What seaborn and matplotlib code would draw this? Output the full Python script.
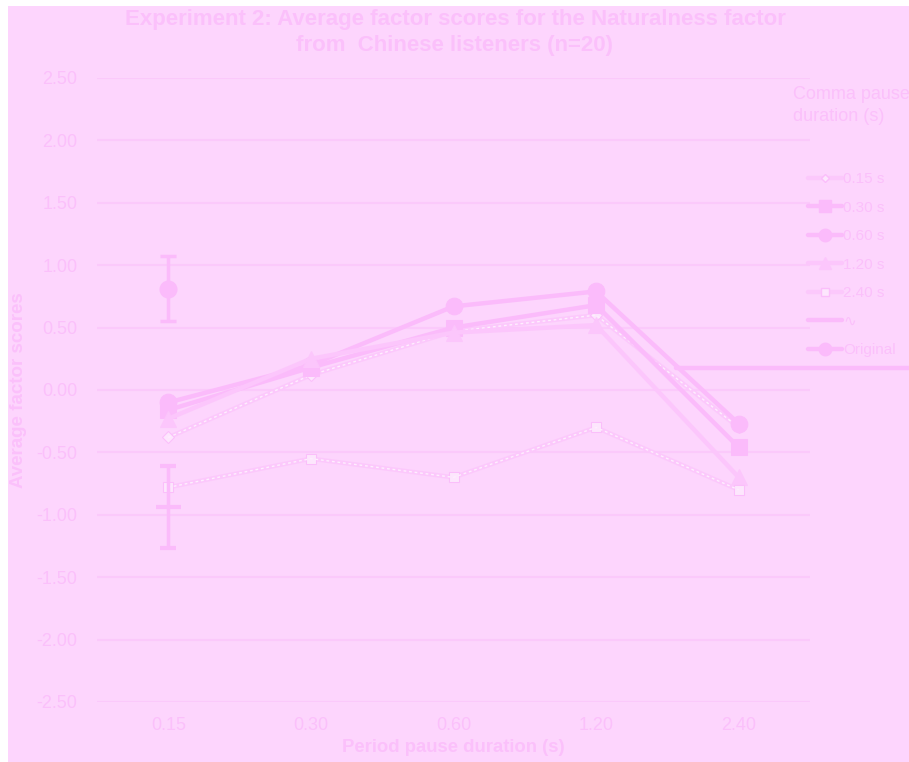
import numpy as np
import pandas as pd
import matplotlib
matplotlib.use('Agg')
import matplotlib.pyplot as plt
from matplotlib.patches import Rectangle
from matplotlib.lines import Line2D
import seaborn as sns

# data
periods = ['0.15', '0.30', '0.60', '1.20', '2.40']
comma_015 = [-0.38, 0.12, 0.47, 0.60, -0.30]
comma_030 = [-0.16, 0.18, 0.50, 0.68, -0.46]
comma_060 = [-0.10, 0.20, 0.67, 0.79, -0.27]
comma_120 = [-0.23, 0.25, 0.46, 0.52, -0.70]
comma_240 = [-0.78, -0.55, -0.70, -0.30, -0.80]
original_mean = 0.81
original_err = 0.26
extra_mean = -0.94
extra_err = 0.33
flat_level = 0.18
flat_span = [3.56, 5.3]

bg = '#FDD5FD'
txt = '#FBC0FB'
grid = '#FBC9FB'
line = '#FBBBFB'

sns.set_theme(style='white')
plt.rcParams['font.family'] = ['Liberation Sans', 'DejaVu Sans']

df = pd.DataFrame({
    'pos': list(range(len(periods))) * 5,
    'score': comma_015 + comma_030 + comma_060 + comma_120 + comma_240,
    'series': sum([[s] * len(periods) for s in ['0.15 s', '0.30 s', '0.60 s', '1.20 s', '2.40 s']], []),
})

fig = plt.figure(figsize=(9.09, 7.62), dpi=100, facecolor='white')
fig.patches.append(Rectangle((8 / 909, 0), 1, 1 - 6 / 762, transform=fig.transFigure,
                             facecolor=bg, edgecolor='none', zorder=-10))
ax = fig.add_axes([97 / 909, 1 - 702 / 762, (810 - 97) / 909, (702 - 78) / 762])
ax.set_facecolor(bg)

styles = {
    '0.15 s': dict(marker='D', markersize=6, color='#FCC8FC', mfc='#FDE6FD', mec='#FBBEFB', linewidth=3.2),
    '0.30 s': dict(marker='s', markersize=11, color=line, mfc=line, mec=line, linewidth=3.2),
    '0.60 s': dict(marker='o', markersize=12, color=line, mfc=line, mec=line, linewidth=3.2),
    '1.20 s': dict(marker='^', markersize=12, color='#FCC6FC', mfc='#FCC6FC', mec='#FCC6FC', linewidth=3.2),
    '2.40 s': dict(marker='s', markersize=7, color='#FCC8FC', mfc='#FDE6FD', mec='#FBBEFB', linewidth=3.2),
}
handles = []
for name, st in styles.items():
    sub = df[df['series'] == name]
    sns.lineplot(data=sub, x='pos', y='score', ax=ax, legend=False, **st)
    if name in ('0.15 s', '2.40 s'):
        sns.lineplot(data=sub, x='pos', y='score', ax=ax, color='#FEEEFE',
                     linewidth=1, linestyle=(0, (2, 2)), legend=False)
    hs = dict(st)
    hs['markersize'] = st['markersize'] * 0.75
    handles.append(Line2D([], [], label=name, **hs))

# flat reference line that runs off the right side
ax.plot(flat_span, [flat_level, flat_level], color=line, linewidth=3.2, clip_on=False)
handles.append(Line2D([], [], color=line, linewidth=3.2, label='\u223f'))

ax.errorbar([0], [original_mean], yerr=[original_err], fmt='o', markersize=12,
            color=line, ecolor=line, elinewidth=2.5, capsize=6, capthick=2.5)
ax.errorbar([0], [extra_mean], yerr=[extra_err], fmt='_', markersize=18, mew=3,
            color=line, ecolor=line, elinewidth=2.5, capsize=6, capthick=2.5)
handles.append(Line2D([], [], color=line, linewidth=3.2, marker='o', markersize=9,
                      label='Original'))

ax.set_xlim(-0.5, 4.5)
ax.set_ylim(-2.5, 2.5)
ax.set_xticks(range(len(periods)))
ax.set_xticklabels(periods)
ax.set_yticks(np.arange(-2.5, 2.51, 0.5))
ax.set_yticklabels([f'{v:.2f}' for v in np.arange(-2.5, 2.51, 0.5)])
ax.tick_params(axis='y', length=0, pad=14, labelsize=13, labelcolor=txt)
ax.tick_params(axis='x', length=0, pad=11, labelsize=13, labelcolor=txt)
ax.yaxis.grid(True, color=grid, linewidth=1.5)
ax.xaxis.grid(False)
for sp in ax.spines.values():
    sp.set_visible(False)
ax.set_xlabel('')
ax.set_ylabel('')

fig.text(19 / 909, 1 - 390 / 762, 'Average factor scores', rotation=90, ha='center',
         va='center', fontsize=13.5, fontweight='bold', color=txt)
fig.text(453 / 909, 1 - 748 / 762, 'Period pause duration (s)', ha='center',
         va='center', fontsize=13.3, fontweight='bold', color=txt)
fig.text(455 / 909, 1 - 9 / 762,
         'Experiment 2: Average factor scores for the Naturalness factor\nfrom  Chinese listeners (n=20)',
         ha='center', va='top', fontsize=16, fontweight='bold', color=txt, linespacing=1.32)
fig.text(793 / 909, 1 - 86 / 762, 'Comma pause\nduration (s)', ha='left', va='top',
         fontsize=13, color=txt, linespacing=1.4)

leg = ax.legend(handles=handles, loc='upper left', bbox_to_anchor=(808 / 909, 1 - 172 / 762),
                bbox_transform=fig.transFigure, frameon=False, fontsize=11,
                handlelength=2.2, handletextpad=0.1, labelspacing=0.95,
                borderpad=0, borderaxespad=0)
for t in leg.get_texts():
    t.set_color(txt)

fig.savefig('out.png', dpi=100, facecolor='white')
